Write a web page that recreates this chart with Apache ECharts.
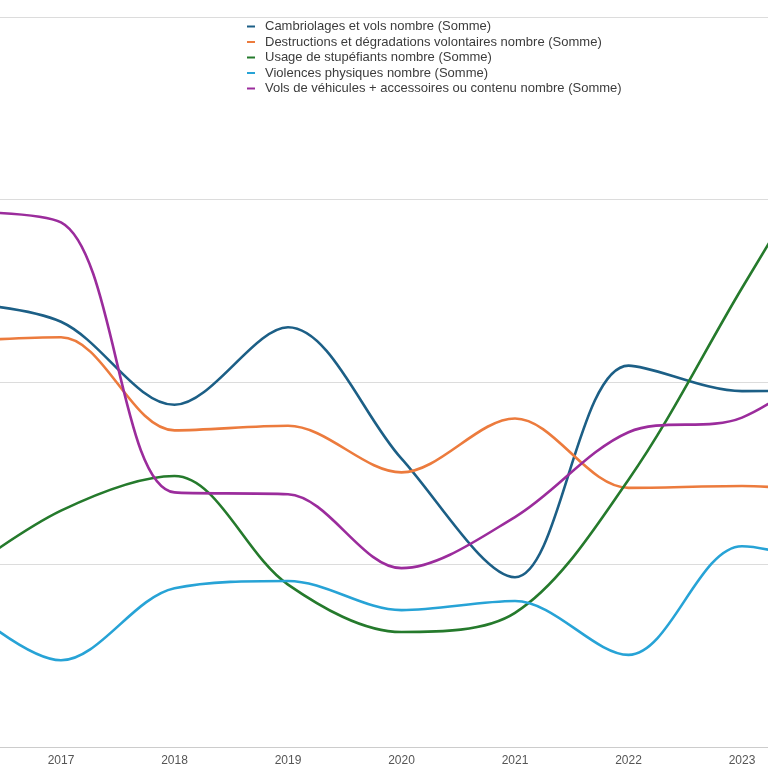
<!DOCTYPE html>
<html>
<head>
<meta charset="utf-8">
<script src="https://cdn.jsdelivr.net/npm/echarts@6/dist/echarts.min.js"></script>
<style>
html,body{margin:0;padding:0;background:#fff;}
#chart{width:768px;height:768px;}
</style>
</head>
<body>
<div id="chart"></div>
<script>
const years = ['2016','2017','2018','2019','2020','2021','2022','2023','2024'];
const cambriolages = [2440, 2330, 1875, 2300, 1580, 930, 2090, 1950, 1955];
const destructions = [2220, 2245, 1735, 1760, 1505, 1800, 1420, 1430, 1380];
const stupefiants = [890, 1295, 1485, 890, 630, 735, 1465, 2515, 3545];
const violences = [860, 475, 870, 910, 750, 800, 505, 1100, 940];
const volsVehicules = [2935, 2875, 1395, 1385, 980, 1260, 1725, 1805, 2230];

const seriesDefs = [
  {name: 'Cambriolages et vols nombre (Somme)', data: cambriolages, color: '#1c5f86'},
  {name: 'Destructions et dégradations volontaires nombre (Somme)', data: destructions, color: '#ec7b3d'},
  {name: 'Usage de stupéfiants nombre (Somme)', data: stupefiants, color: '#257a2c'},
  {name: 'Violences physiques nombre (Somme)', data: violences, color: '#27a3d6'},
  {name: 'Vols de véhicules + accessoires ou contenu nombre (Somme)', data: volsVehicules, color: '#9b2c9c'}
];

const chart = echarts.init(document.getElementById('chart'), null, {renderer: 'canvas'});
chart.setOption({
  animation: false,
  backgroundColor: '#fff',
  textStyle: {fontFamily: 'Liberation Sans, Arial, sans-serif'},
  legend: {
    orient: 'vertical',
    left: 242,
    top: 15,
    itemWidth: 8,
    itemHeight: 2,
    itemGap: 2.5,
    icon: 'rect',
    textStyle: {fontSize: 13, color: '#3c3c3c', padding: [0, 0, 0, 5]},
    data: seriesDefs.map(s => ({name: s.name, itemStyle: {color: s.color}}))
  },
  grid: {
    left: -52.5,
    right: -87.5,
    top: 17,
    bottom: 21,
    outerBoundsMode: 'none',
    containLabel: false
  },
  xAxis: {
    type: 'category',
    data: years,
    boundaryGap: false,
    axisTick: {show: false},
    axisLine: {lineStyle: {color: '#ccc'}},
    axisLabel: {color: '#555', fontSize: 12, margin: 8}
  },
  yAxis: {
    type: 'value',
    min: 0,
    max: 4000,
    interval: 1000,
    axisLabel: {show: false},
    axisLine: {show: false},
    axisTick: {show: false},
    splitLine: {lineStyle: {color: '#dcdcdc'}}
  },
  series: seriesDefs.map(s => ({
    type: 'line',
    name: s.name,
    data: s.data,
    smooth: 0.33,
    showSymbol: false,
    lineStyle: {width: 2.6, color: s.color},
    itemStyle: {color: s.color}
  }))
});
</script>
</body>
</html>
